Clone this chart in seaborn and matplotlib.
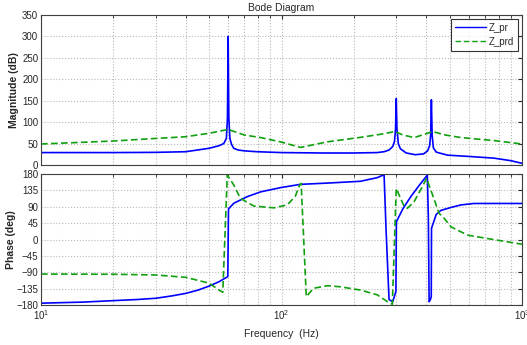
import numpy as np
import pandas as pd
import matplotlib
matplotlib.use("Agg")
import matplotlib.pyplot as plt
import seaborn as sns
from matplotlib.ticker import LogLocator, NullFormatter

# ---- data ----
mag_pr_f = [10, 20, 30, 40, 50, 55, 57.5, 59, 59.6, 60, 60.4, 61, 62, 63.3, 66, 70, 79, 100, 150, 200,
            250, 267, 280, 290, 295, 298, 300, 302, 306, 312, 330, 360, 390, 405, 413, 417, 420, 423,
            428, 440, 490, 600, 765, 900, 1000]
mag_pr_db = [29, 29, 29.5, 31, 39, 45, 50, 62, 110, 300, 110, 62, 48, 39, 35, 33, 31, 29, 28, 28,
             29, 31, 35, 43, 55, 85, 155, 85, 50, 38, 28, 24, 26, 33, 45, 70, 152, 70,
             40, 30, 23, 20, 16, 10, 4]

mag_prd_f = [10, 20, 30, 40, 50, 60, 70, 82, 99, 120, 155, 213, 260, 296, 320, 356, 390, 425, 480, 557,
             765, 1000]
mag_prd_db = [49, 56, 62, 66, 74, 83, 70, 64, 54, 41, 54, 64.5, 72, 78, 70, 64, 71, 78, 70, 64,
              57, 49]

ph_pr_f = [10, 15, 20, 25, 30, 35, 40, 45, 50, 55, 59.8, 60.2, 63.3, 72, 82, 99, 120, 155, 213, 250,
           267, 272, 280, 290, 299, 300.5, 320, 345, 375, 404, 408, 411, 416, 419.5, 420.5, 440, 460,
           506, 557, 631, 800, 1000]
ph_pr_deg = [-175, -172, -168, -165, -161.5, -155, -148, -139, -128, -116, -102, 84, 99.5, 117.7,
             131, 142.5, 151.6, 155, 160, 170, 178, 30, -165, -171, -143, 49, 85, 118, 150, 177, 60,
             -171, -165, -157, 31, 69, 80, 88, 95, 99, 99, 99]

ph_prd_f = [10, 20, 30, 40, 50, 55.6, 57, 59.5, 63.3, 67.5, 76.7, 93, 105.6, 114, 119, 120.7, 126.8,
            136, 155, 176, 213, 250, 276, 289, 300, 324, 334, 356, 385, 401, 425, 452, 475, 506, 594,
            743, 1000]
ph_prd_deg = [-95, -95.5, -97.5, -104, -120, -141, -145, 177, 150, 113, 92, 87, 95, 118, 150, 154, -157,
              -134, -127, -130, -139, -152, -171, -178, 140, 90, 86, 104, 145, 168, 122, 72, 58, 35, 12,
              1, -13]

mag_ticks = [0, 50, 100, 150, 200, 250, 300, 350]
ph_ticks = [180, 135, 90, 45, 0, -45, -90, -135, -180]
series_names = ["Z_pr", "Z_prd"]
colors = {"Z_pr": "#0000FF", "Z_prd": "#10A010"}

mag_df = pd.concat([
    pd.DataFrame({"f": mag_pr_f, "v": mag_pr_db, "s": "Z_pr"}),
    pd.DataFrame({"f": mag_prd_f, "v": mag_prd_db, "s": "Z_prd"}),
])
ph_df = pd.concat([
    pd.DataFrame({"f": ph_pr_f, "v": ph_pr_deg, "s": "Z_pr"}),
    pd.DataFrame({"f": ph_prd_f, "v": ph_prd_deg, "s": "Z_prd"}),
])

sns.set_style("white")
plt.rcParams["font.family"] = ["Liberation Sans", "DejaVu Sans"]
plt.rcParams["font.size"] = 7

fig = plt.figure(figsize=(5.27, 3.45), dpi=100)
ax1 = fig.add_axes([41 / 527, 1 - 165 / 345, 481 / 527, 150 / 345])
ax2 = fig.add_axes([41 / 527, 1 - 305 / 345, 481 / 527, 131 / 345])

for ax, df in ((ax1, mag_df), (ax2, ph_df)):
    sns.lineplot(data=df, x="f", y="v", hue="s", style="s", hue_order=series_names,
                 style_order=series_names, palette=colors,
                 dashes={"Z_pr": "", "Z_prd": (4, 2)}, estimator=None, sort=False,
                 linewidth=1.2, ax=ax, legend=(ax is ax1))
    ax.set_xscale("log")
    ax.set_xlim(10, 1000)
    ax.xaxis.set_major_locator(LogLocator(base=10))
    ax.xaxis.set_minor_locator(LogLocator(base=10, subs=np.arange(2, 10)))
    ax.xaxis.set_minor_formatter(NullFormatter())
    ax.grid(True, which="both", axis="x", color="#b8b8b8", linestyle=":", linewidth=0.8)
    ax.grid(True, which="major", axis="y", color="#b8b8b8", linestyle=":", linewidth=0.8)
    ax.tick_params(which="both", direction="in", top=True, right=True, labelsize=7, pad=2)
    ax.tick_params(which="major", length=3)
    ax.tick_params(which="minor", length=2)
    for sp in ax.spines.values():
        sp.set_color("#404040")
        sp.set_linewidth(0.8)
    ax.set_xlabel("")

ax1.set_ylim(0, 350)
ax1.set_yticks(mag_ticks)
ax1.tick_params(axis="x", which="both", labelbottom=False)
ax1.set_ylabel("Magnitude (dB)", fontsize=7.5, fontweight="bold", labelpad=2)
ax1.set_title("Bode Diagram", fontsize=7.5, pad=3)

ax2.set_ylim(-180, 180)
ax2.set_yticks(ph_ticks)
ax2.set_ylabel("Phase (deg)", fontsize=7.5, fontweight="bold", labelpad=0)
ax2.set_xlabel("Frequency  (Hz)", fontsize=7.5, labelpad=5)

leg = ax1.legend(loc="upper right", fontsize=7, frameon=True, fancybox=False,
                 edgecolor="black", handlelength=3.2, borderpad=0.4, labelspacing=0.4,
                 borderaxespad=0.4, handletextpad=0.3)
leg.get_frame().set_linewidth(0.8)
for h in leg.get_lines():
    h.set_linewidth(1.0)

fig.savefig("out.png", dpi=100)
